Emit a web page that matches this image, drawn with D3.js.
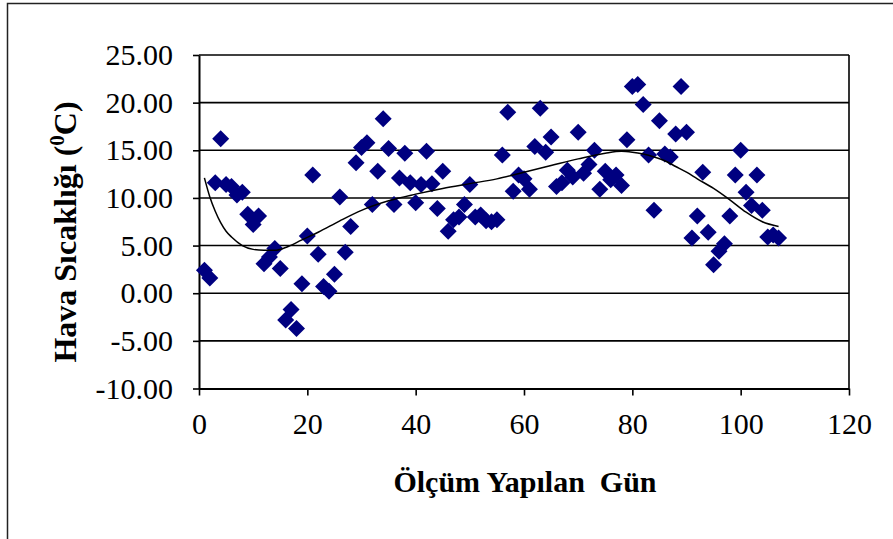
<!DOCTYPE html>
<html>
<head>
<meta charset="utf-8">
<script src="https://cdnjs.cloudflare.com/ajax/libs/d3/7.8.5/d3.min.js"></script>
<style>
  body { margin: 0; background: #fff; }
  svg { display: block; }
  .tick text { font-family: "Liberation Serif", "Times New Roman", serif; }
</style>
</head>
<body>
<div id="chart"></div>
<script>
var width = 893;
var height = 539;

// measured temperature per day (day = index + 1)
var temps = [
  2.4, 1.6, 11.6, 16.2, 11.4, 11.2, 10.3, 10.6, 8.3, 7.2,
  8.1, 3.1, 3.8, 4.7, 2.6, -2.8, -1.7, -3.7, 1.0, 6.0,
  12.4, 4.1, 0.7, 0.2, 2.0, 10.1, 4.3, 7.0, 13.7, 15.3,
  15.8, 9.3, 12.8, 18.3, 15.2, 9.3, 12.1, 14.7, 11.6, 9.5,
  11.4, 14.9, 11.5, 8.9, 12.8, 6.5, 7.7, 8.0, 9.3, 11.4,
  8.0, 8.2, 7.6, 7.5, 7.7, 14.5, 19.0, 10.7, 12.4, 12.0,
  10.9, 15.4, 19.4, 14.8, 16.4, 11.2, 11.6, 12.9, 12.2, 16.9,
  12.6, 13.5, 15.0, 10.9, 12.8, 11.9, 12.4, 11.3, 16.1, 21.7,
  21.9, 19.8, 14.5, 8.7, 18.1, 14.6, 14.3, 16.7, 21.7, 16.9,
  5.8, 8.1, 12.7, 6.4, 3.0, 4.4, 5.2, 8.1, 12.4, 15.0,
  10.6, 9.2, 12.4, 8.7, 5.9, 6.1, 5.8
];

// trend line
var trendDays = [1, 2, 3, 4, 5, 6, 8, 10, 12, 14, 16, 19, 22, 26, 30, 35, 40, 45, 50, 55,
                 60, 65, 70, 75, 78, 80, 82, 84, 86, 88, 90, 92, 95, 98, 101, 104, 107];
var trendTemps = [12.1, 10.1, 8.6, 7.4, 6.5, 5.9, 5.0, 4.6, 4.5, 4.5, 4.8, 5.6, 6.4, 7.6, 8.7, 9.7, 10.4, 11.0, 11.5, 12.0,
                  12.7, 13.4, 14.1, 14.7, 14.9, 14.8, 14.6, 14.3, 13.9, 13.3, 12.7, 12.0, 11.0, 9.8, 8.5, 7.5, 7.0];

var xTicks = [0, 20, 40, 60, 80, 100, 120];
var yTicks = [-10, -5, 0, 5, 10, 15, 20, 25];

var data = temps.map(function (t, i) { return { day: i + 1, temp: t }; });
var trend = trendDays.map(function (d, i) { return { day: d, temp: trendTemps[i] }; });

var xScale = d3.scaleLinear().domain([0, 120]).range([199, 849]);
var yScale = d3.scaleLinear().domain([-10, 25]).range([388.5, 55]);

var svg = d3.select("#chart")
  .append("svg")
  .attr("width", width)
  .attr("height", height);

// outer chart border (right and bottom fall outside the picture)
svg.append("rect")
  .attr("x", 7.5)
  .attr("y", 3.5)
  .attr("width", 1000)
  .attr("height", 700)
  .attr("fill", "none")
  .attr("stroke", "#222")
  .attr("stroke-width", 1.5);

// gridlines
svg.append("g")
  .selectAll("line")
  .data(yTicks.filter(function (d) { return d > -10; }))
  .enter()
  .append("line")
  .attr("x1", xScale(0))
  .attr("x2", xScale(120))
  .attr("y1", function (d) { return yScale(d); })
  .attr("y2", function (d) { return yScale(d); })
  .attr("stroke", "#000")
  .attr("stroke-width", 1.6);

// right frame edge
svg.append("line")
  .attr("x1", xScale(120))
  .attr("x2", xScale(120))
  .attr("y1", yScale(25))
  .attr("y2", yScale(-10))
  .attr("stroke", "#000")
  .attr("stroke-width", 1.6);

var xAxis = d3.axisBottom(xScale)
  .tickValues(xTicks)
  .tickSize(7)
  .tickSizeOuter(0)
  .tickPadding(17)
  .tickFormat(function (d) { return d; });

var yAxis = d3.axisLeft(yScale)
  .tickValues(yTicks)
  .tickSize(6)
  .tickSizeOuter(0)
  .tickPadding(20)
  .tickFormat(function (d) { return d.toFixed(2); });

var gx = svg.append("g")
  .attr("transform", "translate(0," + yScale(-10) + ")")
  .call(xAxis);

var gy = svg.append("g")
  .attr("transform", "translate(" + xScale(0) + ",0)")
  .call(yAxis);

[gx, gy].forEach(function (g) {
  g.select(".domain").attr("stroke", "#000").attr("stroke-width", 2);
  g.selectAll(".tick line").attr("stroke", "#000").attr("stroke-width", 1.6);
  g.selectAll(".tick text")
    .attr("fill", "#000")
    .style("font-size", "30px");
});

// trend line
var line = d3.line()
  .curve(d3.curveMonotoneX)
  .x(function (d) { return xScale(d.day); })
  .y(function (d) { return yScale(d.temp); });

// points
svg.append("g")
  .selectAll("path")
  .data(data)
  .enter()
  .append("path")
  .attr("d", "M0,-8.5L8.5,0L0,8.5L-8.5,0Z")
  .attr("transform", function (d) {
    return "translate(" + xScale(d.day) + "," + yScale(d.temp) + ")";
  })
  .attr("fill", "#000080");

svg.append("path")
  .datum(trend)
  .attr("d", line)
  .attr("fill", "none")
  .attr("stroke", "#000")
  .attr("stroke-width", 1.5);

// axis titles
svg.append("text")
  .attr("x", 525)
  .attr("y", 492)
  .attr("text-anchor", "middle")
  .attr("font-family", "Liberation Serif, Times New Roman, serif")
  .attr("font-weight", "bold")
  .attr("font-size", "30px")
  .attr("xml:space", "preserve")
  .text("Ölçüm Yapılan  Gün");

var yTitle = svg.append("text")
  .attr("transform", "translate(76,232) rotate(-90)")
  .attr("text-anchor", "middle")
  .attr("font-family", "Liberation Serif, Times New Roman, serif")
  .attr("font-weight", "bold")
  .attr("font-size", "32px");
yTitle.append("tspan").text("Hava Sıcaklığı (");
yTitle.append("tspan").attr("baseline-shift", "super").attr("font-size", "21px").text("0");
yTitle.append("tspan").text("C)");
</script>
</body>
</html>
